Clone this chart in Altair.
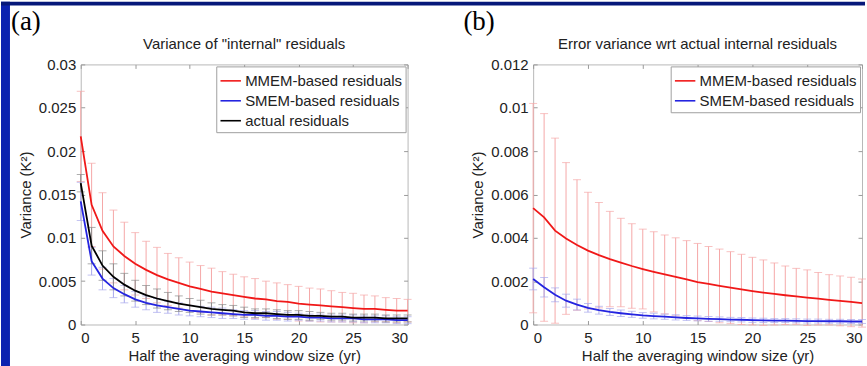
import altair as alt
import pandas as pd

x_years = list(range(31))

# Panel (a): Variance of "internal" residuals
a_mmem_mean = [0.0217, 0.0138, 0.0108, 0.0090, 0.0079, 0.0070, 0.0063, 0.0057, 0.0052, 0.0048,
               0.0044, 0.0041, 0.0038, 0.0036, 0.0034, 0.0032, 0.0030, 0.0029, 0.0027, 0.0026,
               0.0024, 0.0023, 0.0022, 0.0021, 0.0020, 0.0019, 0.0018, 0.0018, 0.0017, 0.0016, 0.0016]
a_mmem_err = [0.0052, 0.0048, 0.0044, 0.0042, 0.0039, 0.0036, 0.0033, 0.0032, 0.0030, 0.0029,
              0.0028, 0.0027, 0.0027, 0.0025, 0.0024, 0.0023, 0.0023, 0.0021, 0.0021, 0.0020,
              0.0020, 0.0019, 0.0019, 0.0018, 0.0017, 0.0017, 0.0016, 0.0015, 0.0014, 0.0014, 0.0013]
a_smem_mean = [0.0142, 0.0073, 0.0053, 0.0042, 0.0035, 0.0029, 0.0025, 0.0022, 0.0020, 0.0018,
               0.0016, 0.0015, 0.0014, 0.0013, 0.0012, 0.0011, 0.0011, 0.0010, 0.0010, 0.0009,
               0.0009, 0.0008, 0.0008, 0.0007, 0.0007, 0.0007, 0.0006, 0.0006, 0.0006, 0.0005, 0.0005]
a_smem_err = [0.0022, 0.0016, 0.0013, 0.0011, 0.0010, 0.0009, 0.0008, 0.0008, 0.0007, 0.0007,
              0.0006, 0.0006, 0.0006, 0.0006, 0.0005, 0.0005, 0.0005, 0.0005, 0.0005, 0.0005,
              0.0004, 0.0004, 0.0004, 0.0004, 0.0004, 0.0004, 0.0004, 0.0004, 0.0004, 0.0004, 0.0004]
a_act_mean = [0.0163, 0.0091, 0.0068, 0.0055, 0.0046, 0.0039, 0.0034, 0.0030, 0.0027, 0.0024,
              0.0022, 0.0020, 0.0018, 0.0017, 0.0016, 0.0014, 0.0013, 0.0013, 0.0012, 0.0011,
              0.0011, 0.0010, 0.0010, 0.0009, 0.0009, 0.0008, 0.0008, 0.0008, 0.0007, 0.0007, 0.0007]
a_act_err = [0.0010, 0.0021, 0.0017, 0.0015, 0.0013, 0.0012, 0.0011, 0.0011, 0.0010, 0.0009,
             0.0008, 0.0008, 0.0007, 0.0006, 0.0006, 0.0006, 0.0005, 0.0005, 0.0005, 0.0005,
             0.0005, 0.0005, 0.0004, 0.0004, 0.0004, 0.0004, 0.0004, 0.0004, 0.0004, 0.0004, 0.0004]

# Panel (b): Error variance wrt actual internal residuals
b_mmem_mean = [0.00537, 0.00494, 0.00433, 0.00397, 0.00367, 0.00341, 0.00320, 0.00302, 0.00286, 0.00270,
               0.00256, 0.00243, 0.00231, 0.00220, 0.00208, 0.00196, 0.00187, 0.00178, 0.00170, 0.00162,
               0.00154, 0.00147, 0.00141, 0.00135, 0.00130, 0.00124, 0.00119, 0.00114, 0.00109, 0.00104, 0.00099]
b_mmem_err = [0.00483, 0.00479, 0.00427, 0.00350, 0.00301, 0.00269, 0.00243, 0.00220, 0.00204, 0.00195,
              0.00184, 0.00185, 0.00182, 0.00180, 0.00179, 0.00178, 0.00173, 0.00170, 0.00166, 0.00162,
              0.00156, 0.00151, 0.00143, 0.00135, 0.00129, 0.00128, 0.00121, 0.00116, 0.00115, 0.00114, 0.00111]
b_smem_mean = [0.00210, 0.00172, 0.00137, 0.00110, 0.00092, 0.00077, 0.00066, 0.00058, 0.00052, 0.00047,
               0.00042, 0.00039, 0.00036, 0.00033, 0.00030, 0.00028, 0.00026, 0.00025, 0.00023, 0.00022,
               0.00020, 0.00019, 0.00018, 0.00018, 0.00017, 0.00016, 0.00016, 0.00015, 0.00015, 0.00014, 0.00014]
b_smem_err = [0.00050, 0.00045, 0.00032, 0.00030, 0.00025, 0.00020, 0.00018, 0.00016, 0.00015, 0.00014,
              0.00013, 0.00013, 0.00012, 0.00012, 0.00011, 0.00011, 0.00011, 0.00010, 0.00010, 0.00010,
              0.00010, 0.00010, 0.00009, 0.00009, 0.00009, 0.00009, 0.00009, 0.00009, 0.00009, 0.00009, 0.00009]

NAMES = ["MMEM-based residuals", "SMEM-based residuals", "actual residuals"]
LINE_COLORS = ["#f01818", "#2424e0", "#000000"]
PALE_COLORS = ["#f5a8a8", "#a8a8ec", "#8c8c8c"]
x_ticks = [0, 5, 10, 15, 20, 25, 30]
a_yticks = [0, 0.005, 0.01, 0.015, 0.02, 0.025, 0.03]
b_yticks = [0, 0.002, 0.004, 0.006, 0.008, 0.01, 0.012]

FONT = "Liberation Sans"
TXT = "#222222"


def frame(series):
    rows = []
    for name, mean, err in series:
        for xi, m, e in zip(x_years, mean, err):
            rows.append({"x": xi, "series": name, "mean": m, "lo": m - e, "hi": m + e})
    return pd.DataFrame(rows)


def panel(df, n, ymax, yticks, title, tag, width, decor=False):
    names = NAMES[:n]
    xs = alt.Scale(domain=[0, 30], nice=False)
    ys = alt.Scale(domain=[0, ymax], nice=False)
    xaxis = alt.Axis(values=x_ticks, title="Half the averaging window size (yr)")
    yaxis = alt.Axis(values=yticks, format="~g", title="Variance (K²)")
    xaxis_top = alt.Axis(orient="top", values=x_ticks, labels=False, title=None)
    yaxis_right = alt.Axis(orient="right", values=yticks, labels=False, title=None)
    base = alt.Chart(df)
    layers = []
    if decor:
        d = alt.Chart(pd.DataFrame({"k": [0]}))
        layers.append(d.mark_rect(color="#0b22b0").encode(
            x=alt.value(-80), x2=alt.value(-71), y=alt.value(-63), y2=alt.value(303)))
        layers.append(d.mark_rect(color="#06187a").encode(
            x=alt.value(-80), x2=alt.value(787), y=alt.value(-63), y2=alt.value(-59)))
    for name, pale in zip(names, PALE_COLORS[:n]):
        layers.append(
            base.transform_filter(alt.datum.series == name)
            .mark_errorbar(ticks={"size": 8}, color=pale, thickness=1)
            .encode(x=alt.X("x:Q", scale=xs, axis=None),
                    y=alt.Y("lo:Q", scale=ys, axis=None),
                    y2="hi:Q")
        )
    layers.append(
        base.mark_line(strokeWidth=1.8).encode(
            x=alt.X("x:Q", scale=xs, axis=xaxis),
            y=alt.Y("mean:Q", scale=ys, axis=yaxis),
            color=alt.Color("series:N",
                            scale=alt.Scale(domain=names, range=LINE_COLORS[:n]),
                            legend=alt.Legend(title=None)),
            detail="series:N",
        )
    )
    layers.append(
        base.mark_line(opacity=0).encode(
            x=alt.X("x:Q", scale=xs, axis=xaxis_top),
            y=alt.Y("mean:Q", scale=ys, axis=yaxis_right),
            detail="series:N",
        )
    )
    labels = alt.Chart(pd.DataFrame({"t": [tag], "h": [title]}))
    layers.append(
        labels.mark_text(
            font="Liberation Serif", fontSize=27, align="left", baseline="alphabetic", color="#000"
        ).encode(text="t:N", x=alt.value(-70), y=alt.value(-35))
    )
    layers.append(
        labels.mark_text(
            font=FONT, fontSize=15, align="center", baseline="middle", color=TXT
        ).encode(text="h:N", x=alt.value(width / 2), y=alt.value(-20))
    )
    return (alt.layer(*layers)
            .resolve_axis(x="independent", y="independent")
            .properties(width=width, height=261))


df_a = frame([(NAMES[0], a_mmem_mean, a_mmem_err),
              (NAMES[1], a_smem_mean, a_smem_err),
              (NAMES[2], a_act_mean, a_act_err)])
df_b = frame([(NAMES[0], b_mmem_mean, b_mmem_err),
              (NAMES[1], b_smem_mean, b_smem_err)])

pa = panel(df_a, 3, 0.03, a_yticks, 'Variance of "internal" residuals', "(a)", 328, decor=True)
pb = panel(df_b, 2, 0.012, b_yticks, "Error variance wrt actual internal residuals", "(b)", 330)

chart = (
    alt.hconcat(pa, pb, spacing=126, bounds="flush")
    .resolve_scale(color="independent", x="independent", y="independent")
    .resolve_legend(color="independent")
    .properties(padding=0, background="white")
    .configure_view(stroke="#b8b8b8", strokeWidth=1)
    .configure_axis(labelFont=FONT, labelFontSize=15, labelColor=TXT,
                    titleFont=FONT, titleFontSize=15, titleFontWeight="normal", titleColor=TXT,
                    grid=False, domain=False, tickColor="#9a9a9a", tickSize=4, offset=-4)
    .configure_axisX(labelPadding=6, titlePadding=3)
    .configure_axisY(labelPadding=5, titlePadding=5)
    .configure_legend(orient="top-right", offset=2, strokeColor="#a0a0a0", fillColor="white",
                      padding=3, labelFont=FONT, labelFontSize=15, labelColor=TXT,
                      symbolType="stroke", symbolSize=420, symbolStrokeWidth=1.6,
                      rowPadding=0, labelLimit=400, labelOffset=3, cornerRadius=0)
)

chart.save("out.html", embed_options={"renderer": "svg", "actions": False})
